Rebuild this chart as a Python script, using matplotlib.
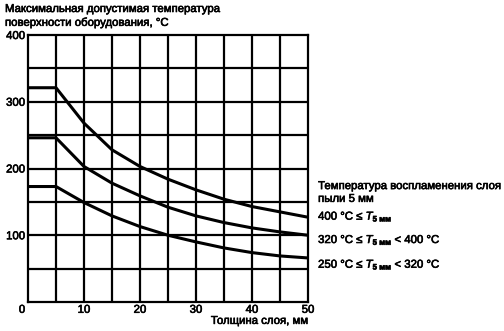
import matplotlib
matplotlib.use("Agg")
import matplotlib.pyplot as plt
import matplotlib.patheffects as pe
from matplotlib.text import Text

plt.rcParams['font.family'] = ['Liberation Sans', 'DejaVu Sans']
plt.rcParams['mathtext.fontset'] = 'custom'
plt.rcParams['mathtext.rm'] = 'Liberation Sans'
plt.rcParams['mathtext.it'] = 'Liberation Sans:italic'
plt.rcParams['mathtext.bf'] = 'Liberation Sans:bold'

# layer thickness, mm
thickness = [0, 5, 10, 15, 20, 25, 30, 35, 40, 45, 50]
# max permissible surface temperature, °C
t_400 = [321, 321, 268, 228, 203, 184, 168, 154, 143, 135, 127]
t_320 = [246, 246, 203, 178, 159, 142, 129, 119, 111, 105, 100]
t_250 = [173, 173, 149, 129, 113, 100, 90, 81, 74, 69, 66]

curve_labels = [r"400 °C ≤ $\it{T}_{\mathbf{5\ мм}}$",
                r"320 °C ≤ $\it{T}_{\mathbf{5\ мм}}$ < 400 °C",
                r"250 °C ≤ $\it{T}_{\mathbf{5\ мм}}$ < 320 °C"]
label_y = [128, 93, 56]

fs = 8.2

fig = plt.figure(figsize=(5.04, 3.31), dpi=100)
ax = fig.add_axes([28/504, 1 - 302/331, 280/504, 267/331])

for x in range(5, 50, 5):
    ax.axvline(x, color='black', lw=1.6, zorder=1)
for y in range(50, 400, 50):
    ax.axhline(y, color='black', lw=1.6, zorder=1)

for series in (t_400, t_320, t_250):
    ax.plot(thickness, series, color='black', lw=2.2, zorder=3)

ax.set_xlim(0, 50)
ax.set_ylim(0, 400)
ax.set_xticks([10, 20, 30, 40, 50])
ax.set_yticks([100, 200, 300, 400])
ax.tick_params(length=0, labelsize=fs, pad=2)
for s in ax.spines.values():
    s.set_linewidth(1.6)

ax.annotate("0", (0, 0), xytext=(-2, -2), textcoords='offset points',
            ha='right', va='top', fontsize=fs)
ax.annotate("Толщина слоя, мм", (50, 0), xytext=(0, -10), textcoords='offset points',
            ha='right', va='top', fontsize=fs)

fig.text(5/504, 1 - 4/331,
         "Максимальная допустимая температура\nповерхности оборудования, °C",
         ha='left', va='top', fontsize=fs, linespacing=1.4)

ax.text(51.8, 147, "Температура воспламенения слоя\nпыли 5 мм",
        ha='left', va='bottom', fontsize=fs, linespacing=1.35, clip_on=False)
for lab, y in zip(curve_labels, label_y):
    ax.text(51.8, y, lab, ha='left', va='center', fontsize=fs, clip_on=False)

# heavier strokes, like the scanned original
for t in fig.findobj(Text):
    t.set_path_effects([pe.withStroke(linewidth=0.45, foreground='black')])

fig.savefig("out.png", dpi=100)
